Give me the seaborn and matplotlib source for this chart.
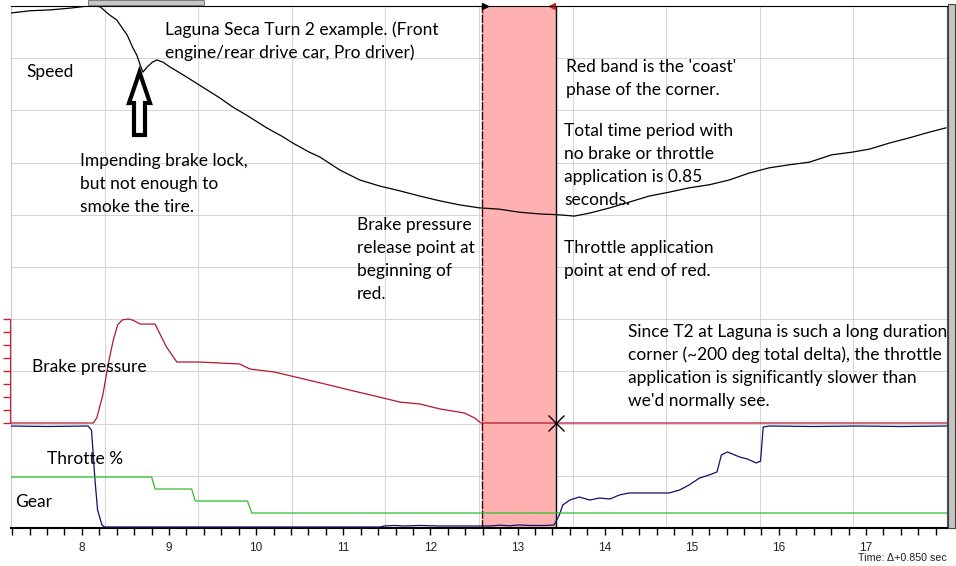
import numpy as np
import pandas as pd
import matplotlib
matplotlib.use('Agg')
import matplotlib.pyplot as plt
import seaborn as sns
from matplotlib.patches import FancyArrow, Rectangle
from matplotlib.transforms import IdentityTransform

# Laguna Seca T2 telemetry
speed_t = [7.19, 7.40, 7.63, 7.86, 8.07, 8.15, 8.21, 8.32, 8.40, 8.44, 8.52, 8.58, 8.63, 8.67,
           8.70, 8.75, 8.81, 8.86, 8.93, 9.01, 9.20, 9.35, 9.58, 9.73, 9.89, 10.12, 10.31,
           10.42, 10.61, 10.73, 10.96, 11.19, 11.42, 11.65, 11.88, 12.11, 12.33, 12.56, 12.79,
           13.02, 13.25, 13.48, 13.65, 13.83, 14.06, 14.28, 14.51, 14.74, 14.97, 15.20, 15.43,
           15.66, 15.89, 16.12, 16.35, 16.61, 16.84, 17.04, 17.27, 17.50, 17.69, 17.92]
speed_mph = [118.4, 118.9, 119.1, 119.5, 120.0, 120.0, 119.8, 117.9, 116.8, 115.6, 113.3, 110.6,
             108.7, 106.4, 104.8, 106.0, 107.1, 107.6, 107.1, 106.0, 103.7, 101.8, 98.9, 96.8,
             94.9, 92.0, 89.9, 88.5, 86.4, 85.3, 82.3, 80.0, 78.6, 77.5, 76.3, 75.2, 74.3, 73.6,
             73.3, 72.6, 72.2, 72.0, 71.7, 72.4, 73.6, 74.9, 76.3, 77.2, 78.2, 78.9, 80.0, 81.6,
             82.8, 83.5, 84.1, 85.8, 86.4, 87.1, 88.5, 89.7, 90.8, 92.0]

brake_t = [7.19, 8.13, 8.17, 8.24, 8.30, 8.36, 8.41, 8.46, 8.53, 8.58, 8.67, 8.84, 8.89, 8.97,
           9.09, 9.35, 9.81, 9.93, 10.21, 10.50, 10.79, 11.07, 11.36, 11.65, 11.88, 12.11,
           12.39, 12.51, 12.58, 17.93]
brake_psi = [0, 0, 38, 215, 446, 638, 754, 792, 800, 792, 761, 761, 692, 585, 469, 469, 454,
             415, 392, 346, 300, 254, 208, 161, 146, 108, 77, 38, 0, 0]

throttle_t = [7.19, 7.60, 8.07, 8.11, 8.15, 8.18, 8.23, 8.26, 11.42, 11.47, 11.59, 11.70, 11.88,
              12.11, 12.59, 12.68, 12.79, 12.91, 13.02, 13.14, 13.31, 13.42, 13.48, 13.52, 13.60,
              13.71, 13.83, 13.94, 14.06, 14.17, 14.28, 14.51, 14.74, 14.86, 14.97, 15.09, 15.20,
              15.29, 15.34, 15.41, 15.55, 15.64, 15.74, 15.79, 15.82, 15.89, 16.40, 16.90, 17.40,
              17.93]
throttle_pct = [100, 99.5, 100, 96, 46.5, 16.8, 2, 0, 0, 1, 1.5, 1, 1.5, 1, 1, 1, 1.8, 1.2, 2,
                1.5, 1.5, 2, 11.9, 21.8, 26.7, 29.7, 26.7, 28.7, 27.7, 31.7, 33.7, 33.7, 33.7,
                36.6, 41.6, 48.5, 51.5, 54.5, 71.3, 74.3, 69.3, 67.3, 63.4, 65.3, 99, 100, 99.5,
                100, 99.5, 100]

gear_t = [7.19, 8.80, 8.84, 9.26, 9.30, 9.90, 9.95, 17.93]
gear_no = [5, 5, 4, 4, 3, 3, 2, 2]

coast_start = 12.59
coast_end = 13.44

W, H = 956, 566
fig = plt.figure(figsize=(W / 100, H / 100), dpi=100)
sns.set_style('white')
plt.rcParams['font.family'] = ['Lato', 'DejaVu Sans']

# plot box in pixels: x 11..947, y 6..528
L, R, T, B = 11, 947, 6, 528
ax = fig.add_axes([L / W, 1 - B / H, (R - L) / W, (B - T) / H])


def band(a, v_lo, y_lo, v_hi, y_hi):
    # set ylim so value v_lo lands on pixel row y_lo and v_hi on y_hi
    per_px = (v_hi - v_lo) / (y_lo - y_hi)
    a.set_ylim(v_lo - (B - y_lo) * per_px, v_hi + (y_hi - T) * per_px)


# grid: 10 x 10 divisions of the box
for k in range(1, 10):
    ax.plot([k / 10, k / 10], [0, 1], transform=ax.transAxes, color='#d4d4d4', lw=0.7, zorder=0)
    ax.plot([0, 1], [k / 10, k / 10], transform=ax.transAxes, color='#d4d4d4', lw=0.7, zorder=0)

ax.axvspan(coast_start, coast_end, color='#ffb0b0', zorder=1, lw=0)
ax.axvline(coast_start, color='#400000', lw=1.0, ls=(0, (6, 1)), zorder=2)
ax.axvline(coast_end, color='black', lw=1.0, zorder=2)

sns.lineplot(x=speed_t, y=speed_mph, ax=ax, color='black', lw=0.9, zorder=5)
ax.set_ylim(0, 120)

ax_b = ax.twinx()
sns.lineplot(x=brake_t, y=brake_psi, ax=ax_b, color='#b5162e', lw=0.9, zorder=5)
band(ax_b, 0, 423, 800, 319)
ax_b.plot([coast_end], [0], marker='x', ms=12, mew=1.0, color='black', zorder=6)

ax_t = ax.twinx()
sns.lineplot(x=throttle_t, y=throttle_pct, ax=ax_t, color='#10106e', lw=0.9, zorder=5)
band(ax_t, 0, 527, 100, 426)

ax_g = ax.twinx()
sns.lineplot(x=gear_t, y=gear_no, ax=ax_g, color='#2fbf2f', lw=0.9, zorder=5)
band(ax_g, 2, 513, 5, 477)

for a in (ax_t, ax_g):
    a.set_yticks([])
    for s in a.spines.values():
        s.set_visible(False)
ax.set_yticks([])

# brake pressure scale on the left
for s in ('top', 'right', 'bottom'):
    ax_b.spines[s].set_visible(False)
ax_b.spines['left'].set_visible(True)
ax_b.yaxis.set_ticks_position('left')
ax_b.spines['left'].set_position(('outward', 1))
ax_b.spines['left'].set_bounds(0, 800)
ax_b.spines['left'].set_color('#d02030')
ax_b.set_yticks(np.arange(0, 801, 100))
ax_b.set_yticklabels([])
ax_b.tick_params(axis='y', colors='#d02030', length=5, width=1, direction='out')

ax.set_xlim(7.186, 17.93)
ax.set_xticks(range(8, 18))
ax.set_xticks(np.arange(7.2, 17.95, 0.2), minor=True)
ax.tick_params(axis='x', which='both', direction='out', length=5, width=1, color='black',
               labelsize=8.5, labelcolor='#202020', pad=5, bottom=True)
for lab in ax.get_xticklabels():
    lab.set_family(['Liberation Sans', 'DejaVu Sans'])
ax.set_xlabel('')
ax.spines['bottom'].set_color('black')
ax.spines['bottom'].set_linewidth(1.5)
ax.spines['top'].set_color('black')
ax.spines['left'].set_color('#c8c8c8')
ax.spines['right'].set_color('#505050')

# markers on the top edge of the coast band
ax.plot([coast_start + 0.04], [1], marker='>', ms=4, color='black', transform=ax.get_xaxis_transform(), clip_on=False)
ax.plot([coast_end - 0.04], [1], marker='<', ms=4, color='#d02030', transform=ax.get_xaxis_transform(), clip_on=False)

# scroll bars
fig.add_artist(Rectangle((88, H - 5), 116, 5, transform=IdentityTransform(), fc='#c8c8c8', ec='#808080', lw=0.8))
fig.add_artist(Rectangle((948, H - B), 7, B - 4, transform=IdentityTransform(), fc='#c4c4c4', ec='#404040', lw=0.8))

# hollow up-arrow
fig.add_artist(FancyArrow(139.5, H - 135, 0, 63, width=11, head_width=21, head_length=31,
                          length_includes_head=True, transform=IdentityTransform(),
                          fc='white', ec='black', lw=3))


def label(x, y, s):
    # y = baseline of the first line in pixels, 23 px per line
    for i, line in enumerate(s.split('\n')):
        fig.text(x / W, 1 - (y + 23 * i) / H, line, va='baseline', ha='left',
                 fontsize=12.5, color='black')


label(165, 35, 'Laguna Seca Turn 2 example. (Front\nengine/rear drive car, Pro driver)')
label(26, 77, 'Speed')
label(80, 166, 'Impending brake lock,\nbut not enough to\nsmoke the tire.')
label(357, 230, 'Brake pressure\nrelease point at\nbeginning of\nred.')
label(566, 72, "Red band is the 'coast'\nphase of the corner.")
label(564, 136, 'Total time period with\nno brake or throttle\napplication is 0.85\nseconds.')
label(564, 253, 'Throttle application\npoint at end of red.')
label(628, 337, "Since T2 at Laguna is such a long duration\ncorner (~200 deg total delta), the throttle\n"
      "application is significantly slower than\nwe'd normally see.")
label(32, 372, 'Brake pressure')
label(47, 464, 'Throtte %')
label(15, 507, 'Gear')
fig.text(947 / W, 1 - 558 / H, 'Time: \u0394+0.850 sec', va='center', ha='right', fontsize=7.7,
         color='#202020', family=['Liberation Sans', 'DejaVu Sans'])

plt.savefig('out.png', dpi=100)
